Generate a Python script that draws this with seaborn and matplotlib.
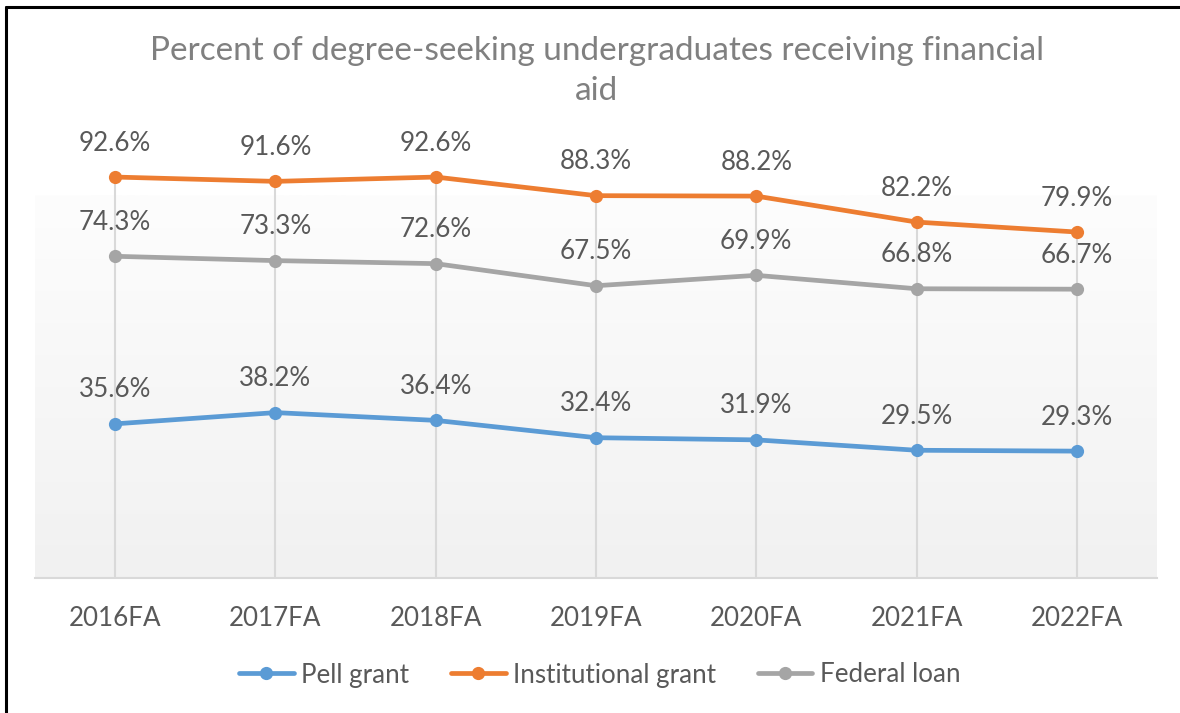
import numpy as np
import pandas as pd
import matplotlib
matplotlib.use("Agg")
import matplotlib.pyplot as plt
from matplotlib.lines import Line2D
from matplotlib.colors import LinearSegmentedColormap
import seaborn as sns

# Fall terms and share of degree-seeking undergraduates receiving each aid type (%)
terms = ["2016FA", "2017FA", "2018FA", "2019FA", "2020FA", "2021FA", "2022FA"]
pell_grant = [35.6, 38.2, 36.4, 32.4, 31.9, 29.5, 29.3]
institutional_grant = [92.6, 91.6, 92.6, 88.3, 88.2, 82.2, 79.9]
federal_loan = [74.3, 73.3, 72.6, 67.5, 69.9, 66.8, 66.7]
series_names = ["Pell grant", "Institutional grant", "Federal loan"]
series_colors = ["#5B9BD5", "#ED7D31", "#A5A5A5"]

sns.set_theme(style="white")
plt.rcParams["font.family"] = ["Lato", "DejaVu Sans"]

df = pd.DataFrame({
    "term": terms * 3,
    "pos": list(range(len(terms))) * 3,
    "value": pell_grant + institutional_grant + federal_loan,
    "series": [series_names[0]] * len(terms)
              + [series_names[1]] * len(terms)
              + [series_names[2]] * len(terms),
})

W, H = 1180, 713
fig = plt.figure(figsize=(W / 100, H / 100), dpi=100)
fig.patch.set_facecolor("white")

ax_left, ax_right, ax_bottom, ax_top = 35, 1157, 578, 145
ax = fig.add_axes([ax_left / W, 1 - ax_bottom / H,
                   (ax_right - ax_left) / W, (ax_bottom - ax_top) / H])
ax.set_xlim(-0.5, len(terms) - 0.5)
ax.set_ylim(0, 100)
ax.set_facecolor("white")

# soft vertical gradient behind the plot area
grad = np.linspace(0, 1, 256).reshape(-1, 1)
cmap = LinearSegmentedColormap.from_list("bg", ["#f1f1f1", "#fdfdfd"])
ax.imshow(grad, cmap=cmap, origin="lower", aspect="auto",
          extent=(-0.5, len(terms) - 0.5, 0, 88.4), zorder=0)

# drop lines from the highest series down to the axis
tops = df.groupby("pos")["value"].max()
ax.vlines(tops.index, 0, tops.values, color="#d9d9d9", lw=1.5, zorder=1)

sns.lineplot(data=df, x="pos", y="value", hue="series", hue_order=series_names,
             palette=series_colors, marker="o", markersize=9.5, markeredgewidth=0,
             linewidth=3.4, legend=False, ax=ax, zorder=3)

# value labels above every point
for _, row in df.iterrows():
    ax.annotate(f"{row['value']:.1f}%", (row["pos"], row["value"]),
                xytext=(0, 24.5), textcoords="offset points",
                ha="center", va="center", fontsize=18.7, color="#595959", zorder=4)

for s in ["top", "right", "left"]:
    ax.spines[s].set_visible(False)
ax.spines["bottom"].set_color("#d9d9d9")
ax.spines["bottom"].set_linewidth(1.5)
ax.set_yticks([])
ax.set_xticks(range(len(terms)))
ax.set_xticklabels(terms)
ax.tick_params(axis="x", length=0, pad=20, labelsize=18.7, labelcolor="#595959")
ax.set_xlabel("")
ax.set_ylabel("")

fig.text(597 / W, 1 - 71 / H,
         "Percent of degree-seeking undergraduates receiving financial\naid",
         ha="center", va="center", fontsize=24, color="#808080", linespacing=1.45)

handles = [Line2D([0], [0], color=c, lw=3.4, marker="o", markersize=9.5,
                  markeredgewidth=0) for c in series_colors]
fig.legend(handles, series_names, loc="center", bbox_to_anchor=(600 / W, 1 - 675 / H),
           ncol=3, frameon=False, fontsize=18.7, labelcolor="#595959",
           handlelength=2.1, handletextpad=0.3, columnspacing=1.6)

# outer frame: top and left edges
fig.add_artist(Line2D([6 / W, 6 / W], [0, 1 - 7 / H], color="black", lw=2.2,
                      transform=fig.transFigure))
fig.add_artist(Line2D([6 / W, 1], [1 - 7 / H, 1 - 7 / H], color="black", lw=2.2,
                      transform=fig.transFigure))

fig.savefig("out.png", dpi=100, facecolor="white")
